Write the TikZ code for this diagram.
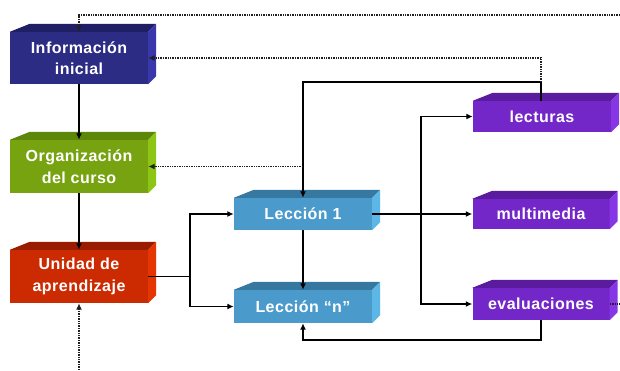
\documentclass[tikz,border=0pt]{standalone}
\usepackage{fontspec}
\newfontfamily\boxfont{Liberation Sans}[LetterSpace=3]
\usetikzlibrary{arrows.meta}

% face colours: front, top, side
\definecolor{navyF}{HTML}{2C2C85}
\definecolor{navyT}{HTML}{1F1F66}
\definecolor{navyS}{HTML}{3838AC}
\definecolor{grnF}{HTML}{77A311}
\definecolor{grnT}{HTML}{5C8708}
\definecolor{grnS}{HTML}{8DC515}
\definecolor{redF}{HTML}{CC2A00}
\definecolor{redT}{HTML}{9A1C00}
\definecolor{redS}{HTML}{E53600}
\definecolor{bluF}{HTML}{4A9BCB}
\definecolor{bluT}{HTML}{36789F}
\definecolor{bluS}{HTML}{5CB7E7}
\definecolor{purF}{HTML}{7427C8}
\definecolor{purT}{HTML}{5A1B9E}
\definecolor{purS}{HTML}{8736E6}
\definecolor{dotgray}{HTML}{202020}

\tikzset{
  blk/.style={inner sep=0pt, align=center, text=white,
    font=\boxfont\bfseries\fontsize{16}{21.5}\selectfont},
  tip/.style={-{Latex[length=6.5pt,width=6pt]}},
  link/.style={line width=1.8pt, black, tip},
  plain/.style={line width=1.8pt, black},
  dotplain/.style={line width=1.8pt, dotgray, dash pattern=on 1.4pt off 1pt},
  dotlink/.style={dotplain, tip},
}

% top and right faces of a block drawn as a 3-D slab
\newcommand\slabfaces[3]{%
  \fill[#2] (#1.north west) -- ++(20,-8)
     -- ([shift={(8pt,8pt)}]#1.north east) -- (#1.north east) -- cycle;
  \fill[#3] (#1.north east) -- ([shift={(8pt,8pt)}]#1.north east)
     -- ([shift={(8pt,8pt)}]#1.south east) -- (#1.south east) -- cycle;
}

\begin{document}
\begin{tikzpicture}[x=1pt,y=-1pt]
\useasboundingbox[fill=white] (0,0) rectangle (620,370);

% blocks
\node[blk, fill=navyF, minimum width=138pt, minimum height=52pt] (info) at (79,58) {Información\\inicial};
\node[blk, fill=grnF, minimum width=138pt, minimum height=53pt] (org) at (79,166.5) {Organización\\del curso};
\node[blk, fill=redF, minimum width=138pt, minimum height=53pt] (unidad) at (79,276.5) {Unidad de\\aprendizaje};
\node[blk, fill=bluF, minimum width=138pt, minimum height=32pt] (lec1) at (303,214) {Lección 1};
\node[blk, fill=bluF, minimum width=138pt, minimum height=33pt] (lecn) at (303,306.5) {Lección “n”};
\node[blk, fill=purF, minimum width=138pt, minimum height=31pt] (lect) at (542,116.5) {lecturas};
\node[blk, fill=purF, minimum width=137pt, minimum height=30pt] (multi) at (541,214) {multimedia};
\node[blk, fill=purF, minimum width=137pt, minimum height=32pt] (evalu) at (541,304) {evaluaciones};

\slabfaces{info}{navyT}{navyS}
\slabfaces{org}{grnT}{grnS}
\slabfaces{unidad}{redT}{redS}
\slabfaces{lec1}{bluT}{bluS}
\slabfaces{lecn}{bluT}{bluS}
\slabfaces{lect}{purT}{purS}
\slabfaces{multi}{purT}{purS}
\slabfaces{evalu}{purT}{purS}

% junction points
\coordinate (topedge) at (620,15);
\coordinate (evedge) at (620,304);
\coordinate (botedge) at (79,370);
\coordinate (lt) at (541,82);
\coordinate (fork) at (190,276.5);
\coordinate (br) at (421,214);
\coordinate (lb) at (541,340);

% main flow
\draw[link] (info.south) -- (org.north);
\draw[link] (org.south) -- (unidad.north);
\draw[plain] (unidad.east) -- (fork);
\draw[link] (fork) |- (lec1.west);
\draw[link] (fork) |- (lecn.west);
\draw[link] (lec1.south) -- (lecn.north);
\draw[link] (lec1.east) -- (multi.west);
\draw[link] (br) |- (lect.west);
\draw[link] (br) |- (evalu.west);
\draw[link] (evalu.south) -- (lb) -| (lecn.south);
\draw[link] (lt |- lect.north) -- (lt) -| (lec1.north);

% feedback (dotted)
\draw[dotlink] (lt) |- (info.east);
\draw[dotlink] (lec1.north |- org.east) -- (org.east);
\draw[dotlink] (topedge) -| (info.north);
\draw[dotplain] (evalu.east) -- (evedge);
\draw[dotlink] (botedge) -- (unidad.south);
\end{tikzpicture}
\end{document}
